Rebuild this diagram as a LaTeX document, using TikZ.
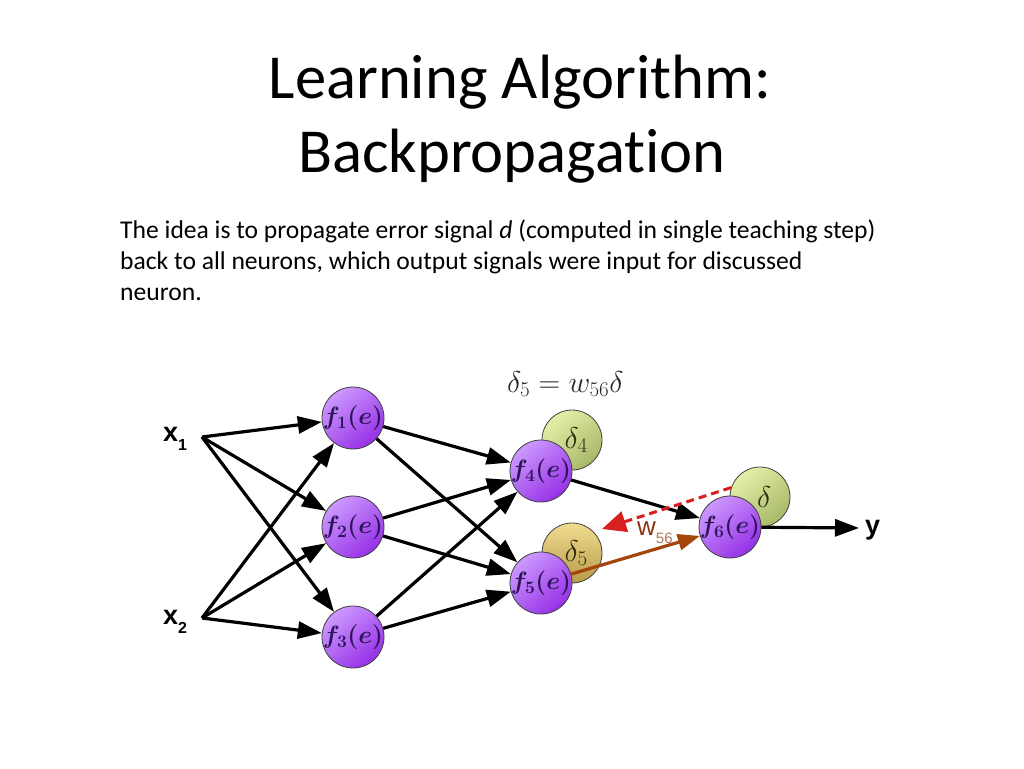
\RequirePackage{fix-cm}
\documentclass[tikz,border=0pt]{standalone}
\usepackage{fontspec}
\setmainfont{Carlito}[Ligatures=NoCommon]
\newfontfamily\arialf{Liberation Sans}
\usetikzlibrary{arrows.meta}
\definecolor{purpL}{HTML}{CC99FF}
\definecolor{purpD}{HTML}{9630E6}
\definecolor{purpT}{HTML}{2E1458}
\definecolor{grnL}{HTML}{E4F0A8}
\definecolor{grnD}{HTML}{A8B868}
\definecolor{ylwL}{HTML}{F0DC90}
\definecolor{ylwD}{HTML}{B89A48}
\definecolor{olivT}{HTML}{2E3010}
\definecolor{brownA}{HTML}{A4460C}
\definecolor{brownW}{HTML}{8A3414}
\definecolor{brownS}{HTML}{B07A56}
\definecolor{redD}{HTML}{D82020}
\definecolor{formT}{HTML}{2A2A2A}
\newcommand\fnlab[1]{\makebox[0pt]{$f_{#1}(e)$}}
\newcommand\dlab[1]{\makebox[0pt]{$#1$}}
\begin{document}
\begin{tikzpicture}[x=1pt,y=-1pt,
  neuron/.style={circle, minimum size=62pt, inner sep=0pt, draw=black!75, line width=0.8pt,
    top color=purpL, bottom color=purpD, shading angle=40, text=purpT,
    font=\fontsize{25}{25}\selectfont\boldmath},
  deltag/.style={circle, minimum size=60pt, inner sep=0pt, draw=black!75, line width=0.8pt,
    top color=grnL, bottom color=grnD, shading angle=40, text=olivT,
    font=\fontsize{30}{30}\selectfont},
  deltay/.style={deltag, top color=ylwL, bottom color=ylwD},
  conn/.style={-{Triangle[length=24pt,width=17pt]}, line width=3.2pt, black},
  inlab/.style={font=\fontsize{27}{27}\selectfont\arialf\bfseries, inner sep=0pt, anchor=base west}
]
\useasboundingbox (0,0) rectangle (1024,768);
\fill[white] (0,0) rectangle (1024,768);

% title and text
\node[anchor=base, font=\fontsize{62.6}{62.6}\selectfont] (t1) at (520,98) {Learning Algorithm:};
\node[anchor=base, font=\fontsize{62.6}{62.6}\selectfont] (t2) at (512,172) {Backpropagation};
\node[anchor=base west, inner sep=0pt, font=\fontsize{25.6}{25.6}\selectfont] (b1) at (120,238) {The idea is to propagate error signal \textit{d} (computed in single teaching step)};
\node[anchor=base west, inner sep=0pt, font=\fontsize{25.6}{25.6}\selectfont] (b2) at (120,269) {back to all neurons, which output signals were input for discussed};
\node[anchor=base west, inner sep=0pt, font=\fontsize{25.6}{25.6}\selectfont] (b3) at (120,300) {neuron.};

% formula
\node[anchor=base west, inner sep=0pt, text=formT, font=\fontsize{30}{30}\selectfont] (form) at (507,392) {$\delta_5 = w_{56}\delta$};

% delta circles
\node[deltag] (d4) at (572,440) {\dlab{\;\delta_4}};
\node[deltay] (d5) at (572,553) {\dlab{\;\delta_5}};
\node[deltag] (d6) at (760,497) {\dlab{\;\delta}};

% neurons
\node[neuron] (f1) at (353,418) {\fnlab{1}};
\node[neuron] (f2) at (353,527) {\fnlab{2}};
\node[neuron] (f3) at (353,637) {\fnlab{3}};
\node[neuron] (f4) at (541,471) {\fnlab{4}};
\node[neuron] (f5) at (541,583) {\fnlab{5}};
\node[neuron] (f6) at (730,527) {\fnlab{6}};

% inputs / output
\node[inlab] (x1) at (163,441) {x\raisebox{-9pt}{\fontsize{16}{16}\selectfont 1}};
\node[inlab] (x2) at (163,624) {x\raisebox{-9pt}{\fontsize{16}{16}\selectfont 2}};
\coordinate (X1) at (202,437);
\coordinate (X2) at (202,618);
\node[inlab] (y) at (865,534) {y};
\coordinate (Y) at (859,528);

\foreach \t in {f1,f2,f3} {
  \draw[conn] (X1) -- (\t);
  \draw[conn] (X2) -- (\t);
  \draw[conn] (\t) -- (f4);
  \draw[conn] (\t) -- (f5);
}
\draw[conn] (f4) -- (f6);
\draw[conn] (f6) -- (Y);

% weighted connection and back propagation
\draw[-{Triangle[length=22pt,width=16pt]}, line width=3.2pt, brownA] (f5) -- (f6);
\coordinate (R) at (602,529);
\draw[redD, line width=3pt, dash pattern=on 8pt off 5pt, -{Triangle[length=24pt,width=21pt]}] (d6.162) -- (R);
\node[anchor=base west, inner sep=0pt, text=brownW, font=\fontsize{26}{26}\selectfont\arialf] (w56) at (637,535)
  {w\raisebox{-8pt}{\textcolor{brownS}{\fontsize{15}{15}\selectfont 56}}};
\end{tikzpicture}
\end{document}
